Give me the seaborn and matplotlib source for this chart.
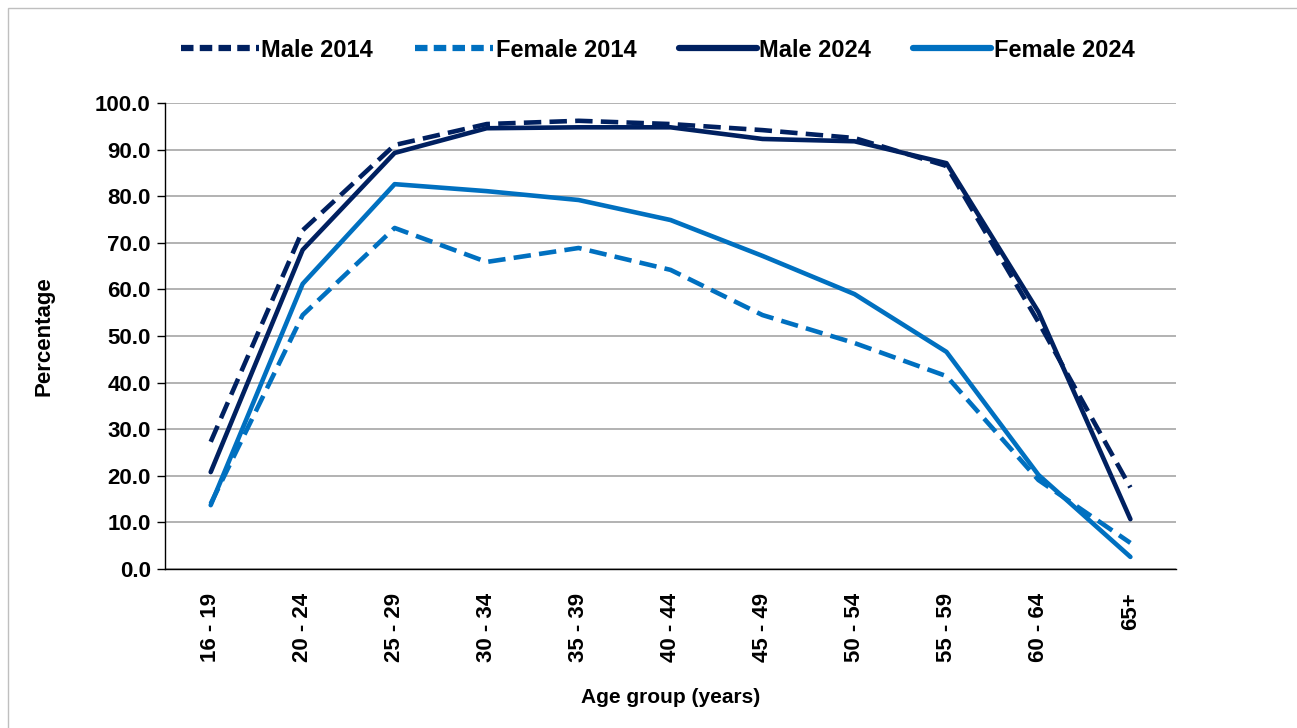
import matplotlib
matplotlib.use("Agg")
import matplotlib.pyplot as plt
import matplotlib.patches as mpatches
from matplotlib.lines import Line2D
from matplotlib.ticker import FixedLocator
import seaborn as sns
import pandas as pd

age_groups = ["16 - 19", "20 - 24", "25 - 29", "30 - 34", "35 - 39", "40 - 44",
              "45 - 49", "50 - 54", "55 - 59", "60 - 64", "65+"]
male_2014 = [27.3, 72.7, 91.0, 95.5, 96.2, 95.5, 94.2, 92.5, 86.5, 53.0, 17.5]
female_2014 = [14.0, 54.5, 73.2, 65.9, 68.9, 64.2, 54.5, 48.5, 41.4, 19.1, 5.6]
male_2024 = [20.8, 68.5, 89.3, 94.6, 94.8, 94.8, 92.3, 91.8, 87.1, 55.2, 10.7]
female_2024 = [13.7, 61.2, 82.6, 81.1, 79.2, 74.9, 67.2, 59.0, 46.6, 20.2, 2.6]

series_names = ["Male 2014", "Female 2014", "Male 2024", "Female 2024"]
series_values = [male_2014, female_2014, male_2024, female_2024]

navy = "#002060"
blue = "#0070C0"
palette = {"Male 2014": navy, "Female 2014": blue, "Male 2024": navy, "Female 2024": blue}
dashes = {"Male 2014": (3.8, 1.8), "Female 2014": (3.8, 1.8), "Male 2024": "", "Female 2024": ""}

rows = []
for name, vals in zip(series_names, series_values):
    for i, v in enumerate(vals):
        rows.append({"series": name, "pos": i, "value": v})
df = pd.DataFrame(rows)

sns.set_style("white")
plt.rcParams["font.family"] = ["Liberation Sans", "DejaVu Sans"]
plt.rcParams["text.color"] = "black"
plt.rcParams["axes.labelcolor"] = "black"
plt.rcParams["xtick.color"] = "black"
plt.rcParams["ytick.color"] = "black"

fig = plt.figure(figsize=(12.97, 7.28), dpi=100)
ax = fig.add_axes([0.127, 0.2184, 0.78, 0.640])

sns.lineplot(data=df, x="pos", y="value", hue="series", style="series",
             palette=palette, dashes=dashes, linewidth=3.3, ax=ax, legend=False,
             hue_order=series_names, style_order=series_names)

ax.set_xlim(-0.5, 10.5)
ax.set_ylim(0, 100)
ax.set_yticks([i * 10 for i in range(11)])
ax.set_yticklabels([f"{i * 10:.1f}" for i in range(11)], fontsize=16, fontweight="bold")
ax.yaxis.grid(True, color="#a6a6a6", linewidth=1.2)
ax.set_axisbelow(True)

ax.set_xticks(range(len(age_groups)))
ax.set_xticklabels(age_groups, rotation=90, fontsize=16, fontweight="bold")
ax.tick_params(axis="x", which="major", length=0, pad=17)
ax.xaxis.set_minor_locator(FixedLocator([i - 0.5 for i in range(len(age_groups) + 1)]))
ax.tick_params(axis="x", which="minor", length=7, width=1, color="black", direction="out")
ax.tick_params(axis="y", length=6, width=1, color="black", direction="out", left=True, pad=4)

for s in ["top", "right"]:
    ax.spines[s].set_visible(False)
for s in ["left", "bottom"]:
    ax.spines[s].set_color("black")
    ax.spines[s].set_linewidth(1)

ax.set_xlabel("Age group (years)", fontsize=15, fontweight="bold", va="center")
ax.xaxis.set_label_coords(0.5, -0.275)
ax.set_ylabel("Percentage", fontsize=16, fontweight="bold", va="center")
ax.yaxis.set_label_coords(-0.119, 0.5)

handles = [Line2D([0], [0], color=palette[n], linewidth=4.5,
                  linestyle=(0, (2, 1)) if "2014" in n else "-") for n in series_names]
fig.legend(handles, series_names, loc="center", bbox_to_anchor=(0.507, 0.931), ncol=4,
           frameon=False, handlelength=3.3, handletextpad=0.1, columnspacing=1.8,
           prop={"weight": "bold", "size": 17})

fig.patches.append(mpatches.Rectangle((8 / 1297, -0.1), 1.2, 0.1 + 1 - 8 / 728,
                                      transform=fig.transFigure, fill=False,
                                      edgecolor="#bfbfbf", linewidth=1))

fig.savefig("out.png", dpi=100)
